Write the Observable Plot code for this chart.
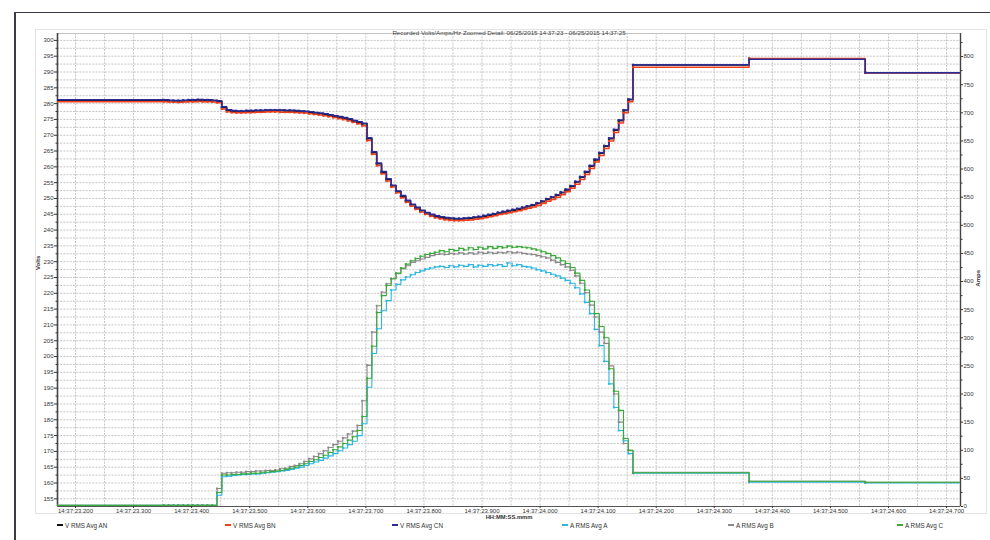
<!DOCTYPE html>
<html>
<head>
<meta charset="utf-8">
<script src="https://cdn.jsdelivr.net/npm/d3@7"></script>
<script src="https://cdn.jsdelivr.net/npm/@observablehq/plot@0.6"></script>
<style>
  html, body { margin: 0; padding: 0; background: #fff; }
  #wrap { position: relative; width: 990px; height: 540px; overflow: hidden;
          font-family: "Liberation Sans", Arial, sans-serif; }
  #wrap svg { position: absolute; left: 0; top: 0; }
  .frameTop { position: absolute; left: 14px; top: 12px; width: 976px; height: 0; border-top: 1.5px solid #3a3a48; }
  .frameLeft { position: absolute; left: 14px; top: 12px; width: 0; height: 528px; border-left: 2px solid #3a3a48; }
  .panel { position: absolute; left: 35px; top: 29px; width: 950px; height: 483px; border: 1px solid #e4e4e4; }
  .li { position: absolute; top: 521px; height: 8px; font-size: 6.3px; color: #333; white-space: nowrap;
        display: flex; align-items: center; }
  .sw { display: inline-block; width: 6px; height: 2px; margin-right: 2px; }
</style>
</head>
<body>
<div id="wrap">
  <div class="frameTop"></div>
  <div class="frameLeft"></div>
  <div class="panel"></div>
</div>
<script>
// ---------------- DATA ----------------
const chartTitle = "Recorded Volts/Amps/Hz Zoomed Detail: 06/25/2015 14:37:23 - 06/25/2015 14:37:25";
const xTitle = "HH:MM:SS.mmm";
const leftTitle = "Volts";
const rightTitle = "Amps";

// time in ms after 14:37:00
const eventStart = 23352;          // first half-cycle sample of the event capture
const halfCycle = 1000 / 120;      // half-cycle RMS interval at 60 Hz
const slowTimes = [23160, 24160, 24360, 24560, 24760]; // 200 ms samples (before / after capture)

const timeTicks = [23200, 23300, 23400, 23500, 23600, 23700, 23800, 23900, 24000, 24100, 24200, 24300, 24400, 24500, 24600, 24700];
const timeTickLabels = ["14:37:23.200", "14:37:23.300", "14:37:23.400", "14:37:23.500", "14:37:23.600", "14:37:23.700",
  "14:37:23.800", "14:37:23.900", "14:37:24.000", "14:37:24.100", "14:37:24.200", "14:37:24.300",
  "14:37:24.400", "14:37:24.500", "14:37:24.600", "14:37:24.700"];
const voltTicks = [155, 160, 165, 170, 175, 180, 185, 190, 195, 200, 205, 210, 215, 220, 225, 230, 235, 240, 245, 250,
  255, 260, 265, 270, 275, 280, 285, 290, 295, 300];
const ampTicks = [0, 50, 100, 150, 200, 250, 300, 350, 400, 450, 500, 550, 600, 650, 700, 750, 800];

const seriesNames = ["V RMS Avg AN", "V RMS Avg BN", "V RMS Avg CN", "A RMS Avg A", "A RMS Avg B", "A RMS Avg C"];
const seriesColors = ["#111111", "#f0401c", "#2c2c96", "#2fb6e2", "#8a8a8a", "#3aaa3a"];

// Volts, half-cycle samples (97 each)
const vAN = [
  281.0, 280.9, 280.8, 280.8, 280.9, 281.0, 281.0, 281.1, 281.0, 281.0,
  280.9, 280.7, 278.8, 277.9, 277.6, 277.5, 277.5, 277.6, 277.6, 277.7,
  277.7, 277.8, 277.8, 277.8, 277.8, 277.7, 277.7, 277.6, 277.5, 277.4,
  277.2, 277.0, 276.8, 276.6, 276.3, 276.0, 275.7, 275.4, 275.0, 274.5,
  274.1, 273.6, 268.9, 264.5, 261.0, 258.3, 256.0, 254.0, 252.2, 250.7,
  249.2, 248.0, 247.0, 246.1, 245.4, 244.8, 244.3, 244.0, 243.8, 243.6,
  243.5, 243.5, 243.6, 243.7, 243.9, 244.1, 244.4, 244.7, 245.0, 245.4,
  245.7, 246.0, 246.3, 246.6, 247.0, 247.4, 247.8, 248.4, 249.0, 249.7,
  250.3, 251.0, 251.8, 252.7, 253.8, 255.2, 256.7, 258.3, 260.2, 262.2,
  264.3, 266.5, 268.9, 271.6, 274.6, 277.8, 281.2];
const vBN = [
  280.6, 280.5, 280.5, 280.4, 280.5, 280.6, 280.6, 280.7, 280.6, 280.6,
  280.5, 280.3, 278.3, 277.4, 277.2, 277.1, 277.1, 277.2, 277.2, 277.3,
  277.3, 277.4, 277.4, 277.4, 277.3, 277.3, 277.3, 277.2, 277.1, 277.0,
  276.8, 276.6, 276.4, 276.2, 275.9, 275.6, 275.3, 275.0, 274.6, 274.1,
  273.6, 273.0, 268.3, 264.0, 260.4, 257.8, 255.5, 253.6, 251.8, 250.2,
  248.8, 247.6, 246.6, 245.7, 245.0, 244.4, 243.9, 243.6, 243.3, 243.1,
  243.0, 243.0, 243.1, 243.2, 243.4, 243.6, 243.9, 244.2, 244.5, 244.9,
  245.2, 245.5, 245.8, 246.1, 246.5, 246.9, 247.3, 247.8, 248.4, 249.1,
  249.7, 250.4, 251.2, 252.1, 253.2, 254.5, 256.0, 257.6, 259.5, 261.5,
  263.6, 265.8, 268.2, 270.9, 273.9, 277.1, 280.6];
const vCN = [
  281.2, 281.1, 281.0, 281.0, 281.1, 281.2, 281.2, 281.3, 281.2, 281.2,
  281.1, 280.9, 279.0, 278.1, 277.8, 277.7, 277.7, 277.8, 277.8, 277.9,
  277.9, 278.0, 278.0, 278.0, 278.0, 277.9, 277.9, 277.8, 277.7, 277.6,
  277.4, 277.2, 277.0, 276.8, 276.5, 276.2, 275.9, 275.6, 275.2, 274.7,
  274.3, 273.8, 269.2, 264.8, 261.2, 258.5, 256.2, 254.2, 252.4, 250.9,
  249.4, 248.2, 247.2, 246.3, 245.6, 245.0, 244.5, 244.2, 244.0, 243.8,
  243.7, 243.7, 243.8, 243.9, 244.1, 244.3, 244.6, 244.9, 245.2, 245.6,
  245.9, 246.2, 246.5, 246.8, 247.2, 247.6, 248.0, 248.6, 249.2, 249.9,
  250.5, 251.2, 252.0, 252.9, 254.0, 255.4, 256.9, 258.5, 260.4, 262.4,
  264.5, 266.7, 269.1, 271.8, 274.8, 278.0, 281.4];
// Volts at the slow samples (slowTimes)
const vANslow = [281.0, 292.2, 294.2, 289.8, 289.8];
const vBNslow = [280.6, 291.5, 294.3, 289.8, 289.8];
const vCNslow = [281.2, 292.3, 294.0, 289.8, 289.8];

// Amps, half-cycle samples (97 each)
const aA = [
  2, 2, 2, 2, 2, 2, 2, 2, 2, 2,
  2, 20, 53, 54, 55, 56, 57, 57, 58, 58,
  59, 60, 61, 62, 63, 64, 66, 68, 70, 73,
  76, 79, 82, 86, 90, 94, 99, 104, 110, 116,
  126, 147, 212, 272, 316, 348, 366, 385, 395, 403,
  408, 412, 416, 419, 422, 424, 426, 427, 425, 428,
  426, 429, 427, 430, 426, 429, 427, 430, 428, 430,
  427, 433, 428, 430, 427, 426, 424, 421, 419, 416,
  413, 410, 406, 402, 397, 389, 378, 363, 343, 315,
  286, 258, 218, 176, 135, 117, 94];
const aB = [
  2, 2, 2, 2, 2, 2, 2, 2, 2, 2,
  2, 32, 59, 60, 60, 61, 61, 62, 62, 63,
  63, 64, 64, 65, 67, 68, 71, 73, 76, 80,
  85, 89, 94, 99, 105, 110, 116, 122, 129, 134,
  144, 188, 251, 310, 357, 381, 396, 405, 414, 423,
  428, 434, 437, 440, 443, 446, 448, 449, 448, 450,
  449, 451, 449, 451, 449, 452, 450, 452, 450, 452,
  451, 453, 451, 452, 450, 449, 448, 446, 444, 442,
  438, 434, 430, 426, 420, 410, 397, 380, 358, 337,
  310, 290, 250, 200, 150, 112, 100];
const aC = [
  2, 2, 2, 2, 2, 2, 2, 2, 2, 2,
  2, 25, 56, 56, 57, 57, 58, 58, 59, 59,
  60, 61, 62, 63, 64, 66, 68, 70, 73, 76,
  80, 83, 87, 91, 96, 101, 106, 112, 118, 124,
  135, 160, 228, 285, 345, 375, 393, 405, 415, 424,
  431, 437, 441, 445, 448, 450, 452, 455, 453, 457,
  455, 459, 456, 460, 457, 461, 458, 462, 459, 462,
  460, 463, 461, 462, 461, 460, 458, 456, 453, 450,
  446, 442, 437, 432, 425, 415, 402, 385, 365, 343,
  320, 300, 245, 205, 171, 121, 100];
// Amps at the slow samples (slowTimes)
const aAslow = [2, 59, 43, 42, 42];
const aBslow = [2, 61, 45, 43, 43];
const aCslow = [2, 60, 45, 43, 43];

// ---------------- BUILD ----------------
function buildRows(eventVals, slowVals, name) {
  const rows = [{t: slowTimes[0], v: slowVals[0], s: name}];
  eventVals.forEach((v, i) => rows.push({t: eventStart + i * halfCycle, v, s: name}));
  for (let k = 1; k < slowTimes.length; k++) rows.push({t: slowTimes[k], v: slowVals[k], s: name});
  return rows;
}
const voltSeries = [
  buildRows(vAN, vANslow, seriesNames[0]),
  buildRows(vBN, vBNslow, seriesNames[1]),
  buildRows(vCN, vCNslow, seriesNames[2])];
const ampSeries = [
  buildRows(aA, aAslow, seriesNames[3]),
  buildRows(aB, aBslow, seriesNames[4]),
  buildRows(aC, aCslow, seriesNames[5])];

const xDomain = [23169, 24724];
const vDomain = [152.57, 302.18];
const aDomain = [0, 841];
const labelOf = new Map(timeTicks.map((t, i) => [t, timeTickLabels[i]]));
const voltGrid = d3.range(155, 302, 2.5);
const voltMinor = d3.range(157.5, 302, 5);
const ampMinor = d3.range(25, 841, 50);
const timeGrid = d3.range(23200, 24701, 50);

const common = {
  width: 990, height: 540,
  marginLeft: 57, marginRight: 30, marginTop: 33, marginBottom: 34,
  style: {background: "transparent", fontFamily: "'Liberation Sans', Arial, sans-serif", fontSize: "6px", color: "#333"}
};
const gridStyle = {stroke: "#b8b8b8", strokeOpacity: 1, strokeWidth: 0.8, strokeDasharray: "2,1.2"};

const voltMarks = [];
voltSeries.forEach((rows, k) => {
  voltMarks.push(Plot.line(rows, {x: "t", y: "v", curve: "step-after", stroke: seriesColors[k], strokeWidth: 1.5, clip: true}));
});
voltSeries.forEach((rows, k) => {
  voltMarks.push(Plot.dot(rows.slice(1), {x: "t", y: "v", symbol: "square", r: 1.2, fill: seriesColors[k], stroke: null, clip: true}));
});

const voltPlot = Plot.plot({
  ...common,
  x: {type: "linear", domain: xDomain},
  y: {type: "linear", domain: vDomain},
  marks: [
    Plot.gridY({ticks: voltGrid, ...gridStyle}),
    Plot.gridX({ticks: timeGrid, ...gridStyle}),
    Plot.frame({stroke: "#c4c4c4"}),
    Plot.ruleX(xDomain.slice(0, 1), {stroke: "#444", strokeWidth: 1.6}),
    Plot.ruleY(vDomain.slice(0, 1), {stroke: "#555", strokeWidth: 1.2}),
    Plot.axisY({ticks: voltTicks, tickSize: 3, tickPadding: 1, label: null, fontSize: 6}),
    Plot.axisY({ticks: voltMinor, tickSize: 1.5, text: null, label: null}),
    Plot.axisX({ticks: timeTicks, tickFormat: d => labelOf.get(d), tickSize: 2, tickPadding: 0, label: null, fontSize: 6}),
    ...voltMarks,
    Plot.text([leftTitle], {text: d => d, frameAnchor: "left", dx: -19, rotate: -90, fontWeight: "bold", fontSize: 6}),
    Plot.text([xTitle], {text: d => d, frameAnchor: "bottom", dy: 12.8, fontWeight: "bold", fontSize: 5.8}),
    Plot.text([chartTitle], {text: d => d, frameAnchor: "top", dy: -3, fontSize: 6.2, fill: "#444"})
  ]
});

const ampMarks = [];
ampSeries.forEach((rows, k) => {
  ampMarks.push(Plot.line(rows, {x: "t", y: "v", curve: "step-after", stroke: seriesColors[3 + k], strokeWidth: 1.1, clip: true}));
});
ampSeries.forEach((rows, k) => {
  ampMarks.push(Plot.dot(rows.slice(1), {x: "t", y: "v", symbol: "square", r: 1.1, fill: seriesColors[3 + k], stroke: null, clip: true}));
});

const ampPlot = Plot.plot({
  ...common,
  x: {type: "linear", domain: xDomain, axis: null},
  y: {type: "linear", domain: aDomain},
  marks: [
    Plot.ruleX(xDomain.slice(1), {stroke: "#444", strokeWidth: 1.4}),
    Plot.axisY({anchor: "right", ticks: ampTicks, tickSize: 2, tickPadding: 1, label: null, fontSize: 6}),
    Plot.axisY({anchor: "right", ticks: ampMinor, tickSize: 1.5, text: null, label: null}),
    ...ampMarks,
    Plot.text([rightTitle], {text: d => d, frameAnchor: "right", dx: 18, rotate: -90, fontWeight: "bold", fontSize: 6})
  ]
});

const wrap = document.getElementById("wrap");
wrap.appendChild(voltPlot);
wrap.appendChild(ampPlot);

// legend
const legendLefts = [57, 225, 392, 562, 728, 897];
seriesNames.forEach((name, k) => {
  const item = document.createElement("div");
  item.className = "li";
  item.style.left = legendLefts[k] + "px";
  const sw = document.createElement("span");
  sw.className = "sw";
  sw.style.background = seriesColors[k];
  item.appendChild(sw);
  item.appendChild(document.createTextNode(name));
  wrap.appendChild(item);
});
</script>
</body>
</html>
